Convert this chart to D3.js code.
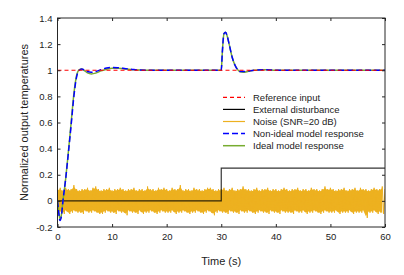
<!DOCTYPE html>
<html><head><meta charset="utf-8">
<script src="https://cdn.jsdelivr.net/npm/d3@7/dist/d3.min.js"></script>
<style>body{margin:0;background:#fff}svg{display:block}text{font-family:"Liberation Sans",Arial,sans-serif;fill:#222}</style>
</head><body><div id="chart"></div>
<script>
const xTicks = [0,10,20,30,40,50,60];
const yTicks = [-0.2,0,0.2,0.4,0.6,0.8,1,1.2,1.4];
const yTickLabels = ["-0.2","0","0.2","0.4","0.6","0.8","1","1.2","1.4"];
const legendLabels = ["Reference input","External disturbance","Noise (SNR=20 dB)","Non-ideal model response","Ideal model response"];

const refTime = [0,60];
const refValue = [1,1];
const distTime = [0,30,30,60];
const distValue = [0,0,0.25,0.25];

const respTime = [0,0.2,0.45,0.7,1.0,1.5,2,2.5,3,3.5,4,4.4,5,5.5,6.2,7,8,9,10,11,12,13,14,15,17,20,25,29.9,30.0,30.2,30.5,30.8,31.1,31.5,32,32.5,33,33.5,34,35,36,38,40,45,50,55,60];
const nonIdealValue = [0,-0.08,-0.15,-0.12,0.0,0.17,0.37,0.58,0.8,0.95,1.0,1.01,1.0,0.99,0.985,0.99,1.005,1.018,1.022,1.02,1.015,1.01,1.005,1.002,1.0,1.0,1.0,1.0,1.0,1.14,1.28,1.29,1.26,1.19,1.1,1.04,1.005,0.99,0.99,0.995,1.0,1.004,1.0,1.0,1.0,1.0,1.0];
const idealValue = [0,-0.07,-0.14,-0.11,0.0,0.17,0.38,0.6,0.82,0.96,1.005,1.01,0.995,0.98,0.972,0.978,0.995,1.008,1.015,1.015,1.012,1.008,1.004,1.002,1.0,1.0,1.0,1.0,1.0,1.14,1.28,1.29,1.26,1.19,1.1,1.04,1.005,0.988,0.985,0.992,1.0,1.003,1.0,1.0,1.0,1.0,1.0];

// noise samples: alternating peak / trough, every 0.25 s
const noiseStep = 0.25;
const noiseValue = [
0.09,-0.08,0.1,-0.09,0.08,-0.1,0.1,-0.08,0.09,-0.1,0.09,-0.09,0.12,-0.08,0.09,-0.09,0.08,-0.09,0.09,-0.1,
0.09,-0.08,0.1,-0.09,0.08,-0.09,0.1,-0.08,0.11,-0.09,0.09,-0.1,0.08,-0.1,0.09,-0.09,0.09,-0.08,0.1,-0.09,
0.08,-0.09,0.09,-0.1,0.09,-0.08,0.1,-0.09,0.09,-0.09,0.08,-0.11,0.09,-0.08,0.09,-0.09,0.1,-0.09,0.08,-0.1,
0.09,-0.08,0.09,-0.1,0.08,-0.09,0.11,-0.09,0.09,-0.08,0.09,-0.09,0.08,-0.1,0.1,-0.09,0.09,-0.08,0.1,-0.09,
0.09,-0.09,0.08,-0.09,0.1,-0.08,0.09,-0.1,0.09,-0.09,0.12,-0.09,0.08,-0.08,0.09,-0.09,0.09,-0.1,0.08,-0.09,
0.1,-0.09,0.09,-0.08,0.09,-0.09,0.08,-0.1,0.09,-0.09,0.1,-0.08,0.1,-0.09,0.09,-0.11,0.08,-0.09,0.09,-0.08,
0.09,-0.09,0.1,-0.09,0.08,-0.1,0.09,-0.08,0.1,-0.09,0.08,-0.09,0.09,-0.1,0.09,-0.08,0.11,-0.09,0.09,-0.09,
0.09,-0.08,0.08,-0.09,0.09,-0.1,0.1,-0.09,0.08,-0.08,0.09,-0.09,0.09,-0.09,0.1,-0.1,0.08,-0.08,0.09,-0.09,
0.09,-0.09,0.08,-0.1,0.09,-0.08,0.1,-0.09,0.09,-0.09,0.08,-0.09,0.09,-0.1,0.09,-0.08,0.1,-0.09,0.08,-0.09,
0.09,-0.08,0.09,-0.1,0.08,-0.09,0.1,-0.09,0.09,-0.08,0.09,-0.09,0.08,-0.1,0.09,-0.09,0.11,-0.08,0.09,-0.09,
0.1,-0.09,0.09,-0.09,0.08,-0.08,0.09,-0.1,0.09,-0.09,0.1,-0.09,0.08,-0.09,0.09,-0.08,0.09,-0.1,0.1,-0.09,
0.08,-0.09,0.1,-0.09,0.09,-0.08,0.09,-0.13,0.08,-0.09,0.09,-0.09,0.1,-0.08,0.09,-0.1,0.09,-0.09,0.11,-0.1,0.09
];

const W = 404, H = 275;
const m = {l:57.5, r:19, t:18, b:48};
const svg = d3.select("#chart").append("svg").attr("width",W).attr("height",H);
const x = d3.scaleLinear().domain([0,60]).range([m.l, W-m.r]);
const y = d3.scaleLinear().domain([-0.2,1.4]).range([H-m.b, m.t]);

svg.append("clipPath").attr("id","c").append("rect")
  .attr("x",m.l).attr("y",m.t).attr("width",W-m.r-m.l).attr("height",H-m.b-m.t);
const g = svg.append("g").attr("clip-path","url(#c)");
const line = d3.line().x(d=>x(d[0])).y(d=>y(d[1]));
const smooth = d3.line().curve(d3.curveMonotoneX).x(d=>x(d[0])).y(d=>y(d[1]));
const zip = (a,b)=>a.map((v,i)=>[v,b[i]]);

// noise: band between each peak/trough pair, plus the raw sample trace
const noiseSamples = noiseValue.map((v,i)=>[i*noiseStep,v]);
const noisePairs = d3.range(0, noiseValue.length-1, 2).map(i=>({t:i*noiseStep, hi:noiseValue[i], lo:noiseValue[i+1]}));
g.append("path").datum(noisePairs)
  .attr("d", d3.area().x(d=>x(d.t)).y0(d=>y(d.lo*0.9)).y1(d=>y(d.hi*0.9)))
  .attr("fill","#EDB120");
g.append("path").datum(noiseSamples)
  .attr("d",line).attr("fill","none").attr("stroke","#EDB120").attr("stroke-width",1);

g.append("path").datum(zip(distTime,distValue)).attr("d",line)
  .attr("fill","none").attr("stroke","#000").attr("stroke-opacity",0.8).attr("stroke-width",1.2);
g.append("path").datum(zip(respTime,idealValue)).attr("d",smooth)
  .attr("fill","none").attr("stroke","#77AC30").attr("stroke-width",1.5);
g.append("path").datum(zip(respTime,nonIdealValue)).attr("d",smooth)
  .attr("fill","none").attr("stroke","#0000FF").attr("stroke-width",1.5).attr("stroke-dasharray","6,3");
g.append("path").datum(zip(refTime,refValue)).attr("d",line)
  .attr("fill","none").attr("stroke","#FF0000").attr("stroke-width",1.2).attr("stroke-dasharray","4,3");

svg.append("rect").attr("x",m.l).attr("y",m.t).attr("width",W-m.r-m.l).attr("height",H-m.b-m.t)
  .attr("fill","none").attr("stroke","#262626").attr("stroke-width",1);
const axB = svg.append("g").attr("transform",`translate(0,${H-m.b})`)
  .call(d3.axisBottom(x).tickValues(xTicks).tickSize(-3).tickPadding(6).tickFormat(d3.format("d")));
const axT = svg.append("g").attr("transform",`translate(0,${m.t})`)
  .call(d3.axisTop(x).tickValues(xTicks).tickSize(-3).tickFormat(""));
const axL = svg.append("g").attr("transform",`translate(${m.l},0)`)
  .call(d3.axisLeft(y).tickValues(yTicks).tickSize(-3).tickPadding(5).tickFormat((d,i)=>yTickLabels[i]));
const axR = svg.append("g").attr("transform",`translate(${W-m.r},0)`)
  .call(d3.axisRight(y).tickValues(yTicks).tickSize(-3).tickFormat(""));
[axB,axT,axL,axR].forEach(a=>{
  a.select(".domain").remove();
  a.selectAll(".tick line").attr("stroke","#262626");
  a.selectAll("text").attr("font-size","9.5px").attr("fill","#222");
});

svg.append("text").attr("x",(m.l+W-m.r)/2).attr("y",265).attr("text-anchor","middle")
  .attr("font-size","11px").text("Time (s)");
svg.append("text").attr("transform",`translate(28,${(m.t+H-m.b)/2}) rotate(-90)`)
  .attr("text-anchor","middle").attr("font-size","11px").text("Normalized output temperatures");

const legStyles = [
  {c:"#FF0000",d:"4,3",w:1.2},{c:"#000",d:null,w:1.2},{c:"#EDB120",d:null,w:1.2},
  {c:"#0000FF",d:"6,3",w:1.5},{c:"#77AC30",d:null,w:1.5}];
const lg = svg.append("g");
legendLabels.forEach((lab,i)=>{
  const yy = 97.3 + i*12.1;
  lg.append("line").attr("x1",223).attr("x2",245).attr("y1",yy).attr("y2",yy)
    .attr("stroke",legStyles[i].c).attr("stroke-width",legStyles[i].w)
    .attr("stroke-dasharray",legStyles[i].d);
  lg.append("text").attr("x",253).attr("y",yy).attr("dy","0.35em").attr("font-size","9.5px").text(lab);
});
</script></body></html>
